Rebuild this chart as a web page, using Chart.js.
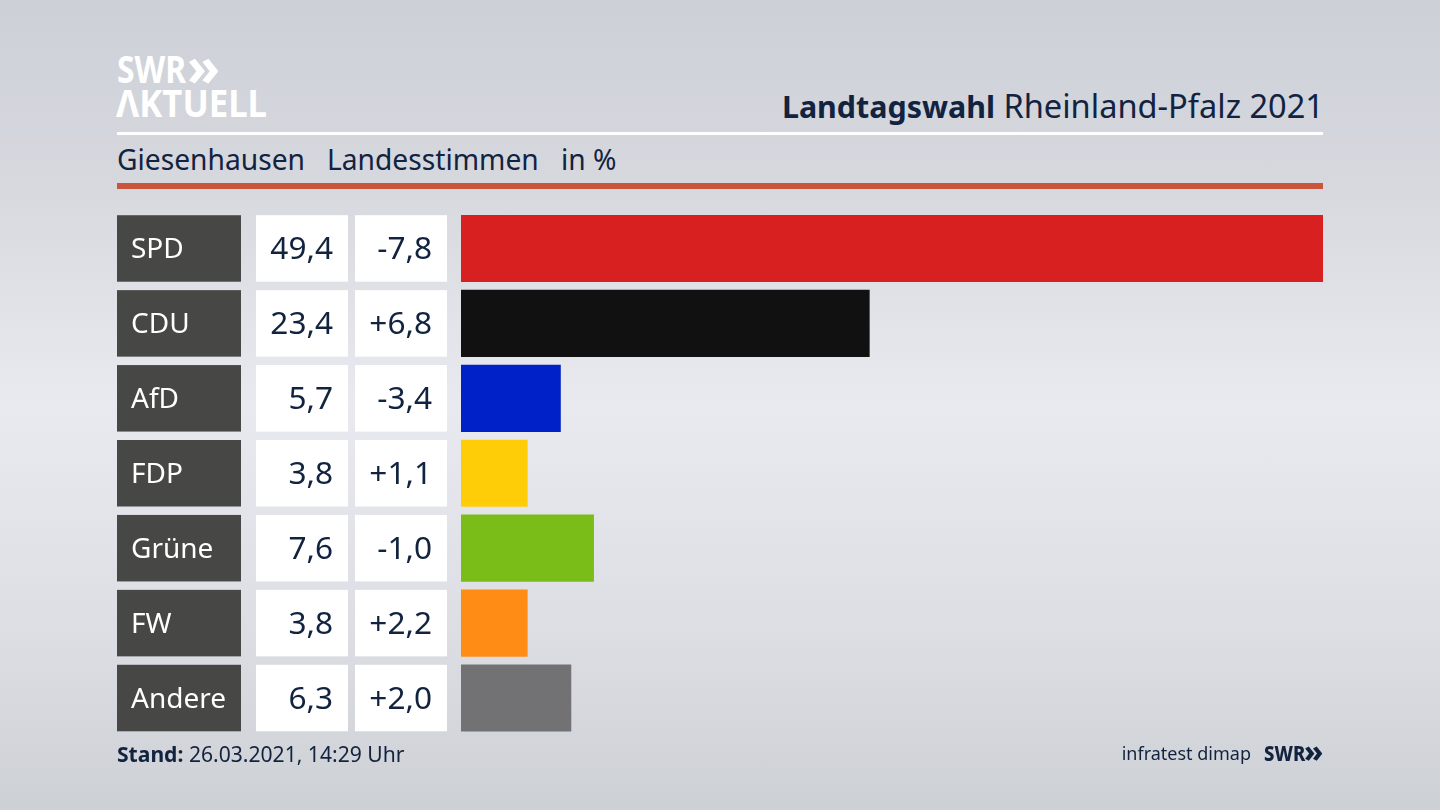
<!DOCTYPE html>
<html lang="de">
<head>
<meta charset="utf-8">
<title>Landtagswahl Rheinland-Pfalz 2021</title>
<script src="https://cdn.jsdelivr.net/npm/chart.js@4"></script>
<style>
html, body { margin: 0; padding: 0; }
body {
    position: relative;
    width: 1440px;
    height: 810px;
    overflow: hidden;
    font-family: "Noto Sans", sans-serif;
    color: #12233f;
    background: linear-gradient(180deg, #cdd0d7 0%, #d6d8de 22%, #e9eaef 50%, #dcdee3 78%, #cdd0d5 100%);
}
#graph { position: absolute; left: 0; top: 0; }
.txt { position: absolute; white-space: nowrap; line-height: 1; }
.logo { color: #fff; font-weight: 700; transform-origin: left top; }
.rule { position: absolute; left: 117px; width: 1206px; }
</style>
</head>
<body>
<div class="txt logo" style="left:117px;top:50px;font-size:37px;transform:scaleX(.86)">SWR</div>
<div class="txt logo" style="left:187px;top:38px;font-size:54px">»</div>
<div class="txt logo" style="left:116px;top:84px;font-size:37px;transform:scaleX(.94)">ΛKTUELL</div>
<div class="txt" style="right:116px;top:90px;font-size:32.6px"><b style="font-size:30.4px">Landtagswahl</b> Rheinland-Pfalz 2021</div>
<div class="rule" style="top:132px;height:3px;background:#fff"></div>
<div class="txt" style="left:117px;top:145px;font-size:28.2px">Giesenhausen</div>
<div class="txt" style="left:327px;top:145px;font-size:28.2px">Landesstimmen</div>
<div class="txt" style="left:561px;top:145px;font-size:28.2px">in %</div>
<div class="rule" style="top:183px;height:6px;background:#c9553c"></div>
<canvas id="graph" width="1440" height="810"></canvas>
<div class="txt" style="left:117px;top:743px;font-size:21.1px"><b>Stand:</b> 26.03.2021, 14:29 Uhr</div>
<div class="txt" style="right:189px;top:744px;font-size:18px">infratest dimap</div>
<div class="txt" style="left:1264px;top:743px;font-size:21px;font-weight:800;transform:scaleX(.88);transform-origin:left top">SWR</div>
<div class="txt" style="left:1304px;top:736px;font-size:30px;font-weight:800">»</div>
<script>
const parties = ['SPD', 'CDU', 'AfD', 'FDP', 'Grüne', 'FW', 'Andere'];
const shares = [49.4, 23.4, 5.7, 3.8, 7.6, 3.8, 6.3];
const changes = [-7.8, 6.8, -3.4, 1.1, -1.0, 2.2, 2.0];

const partyColors = ['#d7201f', '#111111', '#0021c8', '#ffcc08', '#7abd19', '#ff8c14', '#727274'];

function fmt(v) {
    return v.toFixed(1).replace('.', ',');
}

function fmtChange(v) {
    return (v > 0 ? '+' : '') + fmt(v);
}

// the three table columns left of the bars
const tablePlugin = {
    id: 'table',
    afterDatasetsDraw(chart) {
        const ctx = chart.ctx;
        const y = chart.scales.y;
        ctx.save();
        ctx.textBaseline = 'middle';
        parties.forEach((party, i) => {
            const mid = y.getPixelForValue(i);
            const top = mid - 33.25;

            ctx.fillStyle = '#474745';
            ctx.fillRect(117, top, 124, 66.5);
            ctx.fillStyle = '#ffffff';
            ctx.fillRect(256, top, 92, 66.5);
            ctx.fillRect(355, top, 92, 66.5);

            ctx.font = '28px "Noto Sans"';
            ctx.textAlign = 'left';
            ctx.fillText(party, 131, mid + 1.5);

            ctx.font = '31.6px "Noto Sans"';
            ctx.fillStyle = '#12233f';
            ctx.textAlign = 'right';
            ctx.fillText(fmt(shares[i]), 333, mid + 1.5);
            ctx.fillText(fmtChange(changes[i]), 432, mid + 1.5);
        });
        ctx.restore();
    }
};

new Chart(document.getElementById('graph').getContext('2d'), {
    type: 'bar',
    data: {
        labels: parties,
        datasets: [{
            data: shares,
            backgroundColor: partyColors,
            barThickness: 66.5,
        }],
    },
    options: {
        indexAxis: 'y',
        responsive: false,
        animation: false,
        layout: { padding: { left: 461, right: 117, top: 211, bottom: 74.5 } },
        scales: {
            x: { display: false, min: 0, max: 49.4 },
            y: { display: false },
        },
        plugins: {
            legend: { display: false },
            title: { display: false },
            tooltip: { enabled: false },
        },
    },
    plugins: [tablePlugin],
});
</script>
</body>
</html>
